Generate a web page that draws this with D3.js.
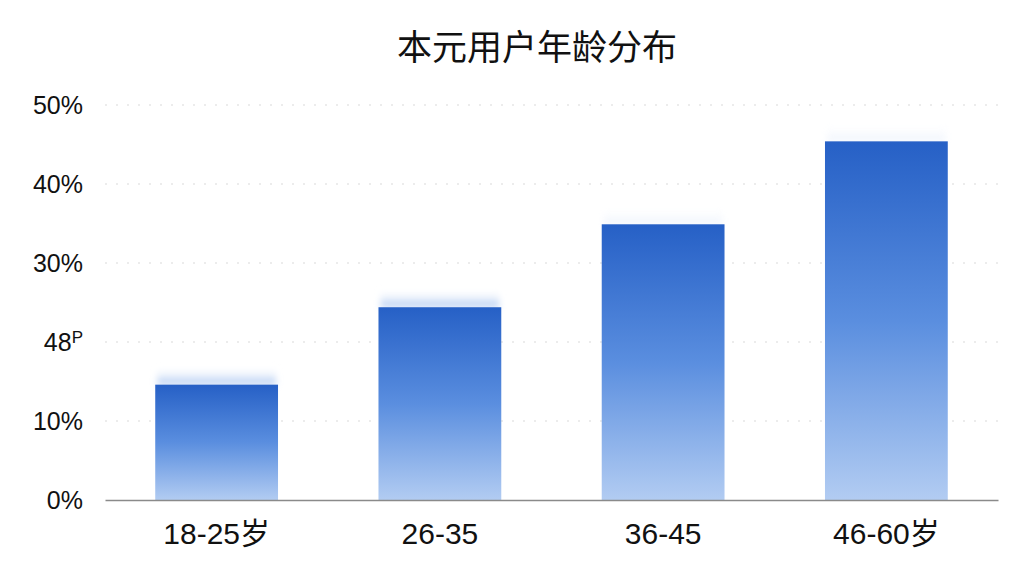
<!DOCTYPE html>
<html>
<head>
<meta charset="utf-8">
<script src="https://cdn.jsdelivr.net/npm/d3@7"></script>
<style>
  body { margin: 0; background: #fff; }
  svg { display: block; }
</style>
</head>
<body>
<script>
// Chart data
var title = "本元用户年龄分布";
var categories = ["18-25岁", "26-35", "36-45", "46-60岁"];
var values = [14.6, 24.4, 34.9, 45.4];
var tickValues = [0, 10, 20, 30, 40, 50];
var tickLabels = ["0%", "10%", "48", "30%", "40%", "50%"];

var width = 1024,
    height = 576;
var margin = {top: 105, right: 26, bottom: 76, left: 105};

var svg = d3.select("body")
  .append("svg")
  .attr("width", width)
  .attr("height", height);

var defs = svg.append("defs");

// Bar gradient, dark blue on top fading down
var grad = defs.append("linearGradient")
  .attr("id", "barGrad")
  .attr("x1", 0).attr("y1", 0)
  .attr("x2", 0).attr("y2", 1);
grad.append("stop").attr("offset", "0%").attr("stop-color", "#2660c6");
grad.append("stop").attr("offset", "50%").attr("stop-color", "#5a8edf");
grad.append("stop").attr("offset", "100%").attr("stop-color", "#b2ccf2");

// soft glow above the bar tops
var glow = defs.append("linearGradient")
  .attr("id", "glowGrad")
  .attr("x1", 0).attr("y1", 0)
  .attr("x2", 0).attr("y2", 1);
glow.append("stop").attr("offset", "0%").attr("stop-color", "#ffffff").attr("stop-opacity", 0);
glow.append("stop").attr("offset", "100%").attr("stop-color", "#a9c5f0").attr("stop-opacity", 1);

var blur = defs.append("filter").attr("id", "blur")
  .attr("x", "-10%").attr("y", "-50%").attr("width", "120%").attr("height", "200%");
blur.append("feGaussianBlur").attr("stdDeviation", 3);

var x = d3.scaleBand()
  .domain(categories)
  .range([margin.left, width - margin.right])
  .paddingInner(0.45)
  .paddingOuter(0.225);

var y = d3.scaleLinear()
  .domain([0, 50])
  .range([height - margin.bottom, margin.top]);

// Title
svg.append("text")
  .attr("x", 537)
  .attr("y", 60)
  .attr("text-anchor", "middle")
  .style("font-family", "'Noto Sans CJK SC', sans-serif")
  .style("font-size", "35px")
  .style("font-weight", 400)
  .style("fill", "#111")
  .text(title);

// Gridlines (dotted, very light)
svg.append("g")
  .selectAll("line")
  .data(tickValues.slice(1))
  .join("line")
  .attr("x1", margin.left)
  .attr("x2", width - margin.right)
  .attr("y1", function(d){ return y(d); })
  .attr("y2", function(d){ return y(d); })
  .attr("stroke", "#e6e6e6")
  .attr("stroke-width", 1.5)
  .attr("stroke-dasharray", "2,9");

// Y axis labels
var yAxis = svg.append("g")
  .attr("transform", "translate(" + margin.left + ",0)")
  .call(d3.axisLeft(y).tickValues(tickValues).tickSize(0).tickPadding(22)
    .tickFormat(function(d, i){ return tickLabels[i]; }));
yAxis.select(".domain").remove();
yAxis.selectAll("text")
  .style("font-family", "'Liberation Sans', Arial, sans-serif")
  .style("font-size", "25px")
  .style("fill", "#111");
// the 20% tick is printed as "48" with a small raised P in the source
yAxis.selectAll(".tick text")
  .filter(function(d){ return d === 20; })
  .append("tspan")
  .attr("dy", "-0.45em")
  .style("font-size", "17px")
  .text("P");

// Glow above bars
svg.append("g")
  .selectAll("rect")
  .data(values)
  .join("rect")
  .attr("x", function(d, i){ return x(categories[i]) + 2; })
  .attr("width", x.bandwidth() - 4)
  .attr("y", function(d){ return y(d) - 18; })
  .attr("height", 18)
  .attr("fill", "url(#glowGrad)")
  .attr("opacity", function(d, i){ return i < 2 ? 1 : 0.2; })
  .attr("filter", "url(#blur)");

// Bars
svg.append("g")
  .selectAll("rect")
  .data(values)
  .join("rect")
  .attr("x", function(d, i){ return x(categories[i]); })
  .attr("width", x.bandwidth())
  .attr("y", function(d){ return y(d); })
  .attr("height", function(d){ return y(0) - y(d); })
  .attr("fill", "url(#barGrad)");

// X axis
var xAxis = svg.append("g")
  .attr("transform", "translate(0," + y(0) + ")")
  .call(d3.axisBottom(x).tickSize(0).tickPadding(23));
xAxis.select(".domain")
  .attr("stroke", "#8a8a8a")
  .attr("stroke-width", 1.5);
xAxis.selectAll("text")
  .style("font-family", "'Liberation Sans', 'Noto Sans CJK SC', sans-serif")
  .style("font-size", "30px")
  .style("fill", "#111");
</script>
</body>
</html>
